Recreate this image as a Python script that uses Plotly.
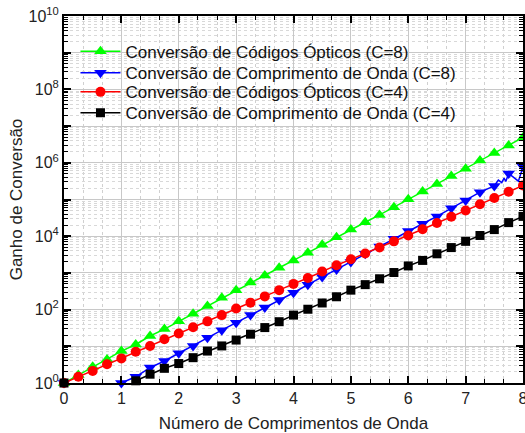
import plotly.graph_objects as go

# x positions (number of wavelengths)
x_grid = [i * 0.25 for i in range(33)]
x_tick_vals = [0, 1, 2, 3, 4, 5, 6, 7, 8]

# log10 of conversion gain
green_log10 = [0.00, 0.22, 0.44, 0.64, 0.87, 1.05, 1.28, 1.47, 1.68, 1.89, 2.10,
               2.32, 2.53, 2.74, 2.93, 3.14, 3.34, 3.55, 3.77, 3.97, 4.18, 4.38,
               4.58, 4.79, 5.01, 5.22, 5.42, 5.64, 5.84, 6.06, 6.27, 6.47, 6.69]
red_log10 = [0.00, 0.17, 0.33, 0.51, 0.67, 0.85, 1.01, 1.19, 1.35, 1.52, 1.68,
             1.85, 2.03, 2.19, 2.36, 2.53, 2.70, 2.86, 3.04, 3.21, 3.37, 3.53,
             3.69, 3.86, 4.02, 4.19, 4.36, 4.53, 4.70, 4.87, 5.04, 5.21, 5.38]
black_log10 = [0.00, None, None, None, None, 0.06, 0.24, 0.40, 0.53, 0.69, 0.87,
               1.01, 1.17, 1.33, 1.51, 1.67, 1.85, 2.01, 2.18, 2.35, 2.53, 2.68,
               2.84, 3.01, 3.19, 3.34, 3.52, 3.69, 3.86, 4.02, 4.18, 4.37, 4.54]
# blue series has some extra (noisy) samples near the end
blue_x = [0.0, 0.25, 0.5, 0.75, 1.0, 1.25, 1.5, 1.75, 2.0, 2.25, 2.5, 2.75, 3.0,
          3.25, 3.5, 3.75, 4.0, 4.25, 4.5, 4.75, 5.0, 5.25, 5.5, 5.75, 6.0, 6.25,
          6.5, 6.75, 7.0, 7.25, 7.5, 7.57, 7.63, 7.67, 7.70, 7.75, 7.92, 8.0]
blue_log10 = [0.00, None, None, None, 0.00, 0.17, 0.42, 0.60, 0.81, 1.01, 1.23,
              1.44, 1.64, 1.85, 2.06, 2.26, 2.46, 2.68, 2.89, 3.09, 3.30, 3.52,
              3.72, 3.93, 4.14, 4.34, 4.54, 4.76, 4.97, 5.20, 5.37, 5.53, 5.46,
              5.58, 5.49, 5.71, 5.50, 5.89]

names = ["Conversão de Códigos Ópticos (C=8)",
         "Conversão de Comprimento de Onda (C=8)",
         "Conversão de Códigos Ópticos (C=4)",
         "Conversão de Comprimento de Onda (C=4)"]

y_tick_exps = list(range(0, 11))


def to_gain(v):
    return [None if e is None else 10 ** e for e in v]


FONT = "Liberation Sans, Arial, sans-serif"
fig = go.Figure()

fig.add_trace(go.Scatter(x=x_grid, y=to_gain(green_log10), name=names[0], legend="legend",
                         mode="lines+markers", cliponaxis=False,
                         line=dict(color="rgb(0,255,0)", width=1.5),
                         marker=dict(symbol="triangle-up", size=11, color="rgb(0,255,0)")))

blue_colors = ["rgb(0,0,255)" if abs(xv * 4 - round(xv * 4)) < 1e-9 else "rgba(0,0,0,0)"
               for xv in blue_x]
fig.add_trace(go.Scatter(x=blue_x, y=to_gain(blue_log10), name=names[1], legend="legend2",
                         mode="lines+markers", cliponaxis=False,
                         line=dict(color="rgb(0,0,255)", width=1.5),
                         marker=dict(symbol="triangle-down", size=11, color=blue_colors)))

fig.add_trace(go.Scatter(x=x_grid, y=to_gain(red_log10), name=names[2], legend="legend3",
                         mode="lines+markers", cliponaxis=False,
                         line=dict(color="rgb(255,0,0)", width=1.5),
                         marker=dict(symbol="circle", size=10, color="rgb(255,0,0)")))

fig.add_trace(go.Scatter(x=x_grid, y=to_gain(black_log10), name=names[3], legend="legend4",
                         mode="lines+markers", cliponaxis=False,
                         line=dict(color="black", width=1.5),
                         marker=dict(symbol="square", size=9, color="black")))

tickvals = [10 ** e for e in y_tick_exps]
ticktext = [f"10<sup>{e}</sup>" if e % 2 == 0 else "" for e in y_tick_exps]

leg_common = dict(xanchor="left", yanchor="middle", x=0.025,
                  bgcolor="rgba(0,0,0,0)", font=dict(size=17, color="#111", family=FONT),
                  itemwidth=40, tracegroupgap=0)
leg_y = [0.9027, 0.8439, 0.7921, 0.7349]

fig.update_layout(
    width=525, height=433,
    margin=dict(l=64, r=2, t=16, b=50, autoexpand=False),
    paper_bgcolor="white", plot_bgcolor="white",
    font=dict(family=FONT, size=16, color="#222"),
    showlegend=True,
    legend=dict(leg_common, y=leg_y[0]),
    legend2=dict(leg_common, y=leg_y[1]),
    legend3=dict(leg_common, y=leg_y[2]),
    legend4=dict(leg_common, y=leg_y[3]),
)

fig.update_xaxes(
    range=[0, 8], tickmode="array", tickvals=x_tick_vals, ticklabeloverflow="allow",
    automargin=False,
    showline=True, linecolor="black", linewidth=2, mirror="allticks",
    ticks="inside", ticklen=7, tickwidth=1.5, tickcolor="black",
    showgrid=True, gridcolor="#c8c8c8", gridwidth=1,
    zeroline=False,
    minor=dict(tickmode="linear", tick0=0, dtick=1 / 3, ticks="inside", ticklen=4, tickwidth=1.2,
               tickcolor="black", showgrid=True, gridcolor="#d0d0d0", griddash="dot", gridwidth=1),
    title=dict(text="Número de Comprimentos de Onda", font=dict(size=17, color="#222"), standoff=12),
    tickfont=dict(size=16, color="#222"),
)

fig.update_yaxes(
    type="log", range=[0, 10], automargin=False,
    tickmode="array", tickvals=tickvals, ticktext=ticktext, ticklabeloverflow="allow",
    showline=True, linecolor="black", linewidth=2, mirror="allticks",
    ticks="inside", ticklen=7, tickwidth=1.5, tickcolor="black",
    showgrid=True, gridcolor="#c8c8c8", gridwidth=1,
    zeroline=False,
    minor=dict(dtick="D1", ticks="inside", ticklen=4, tickwidth=1.2, tickcolor="black",
               showgrid=True, gridcolor="#d8d8d8", griddash="dot", gridwidth=1),
    title=dict(text="Ganho de Conversão", font=dict(size=17, color="#222"), standoff=2),
    tickfont=dict(size=16, color="#222"),
)

fig.write_html("out.html")
